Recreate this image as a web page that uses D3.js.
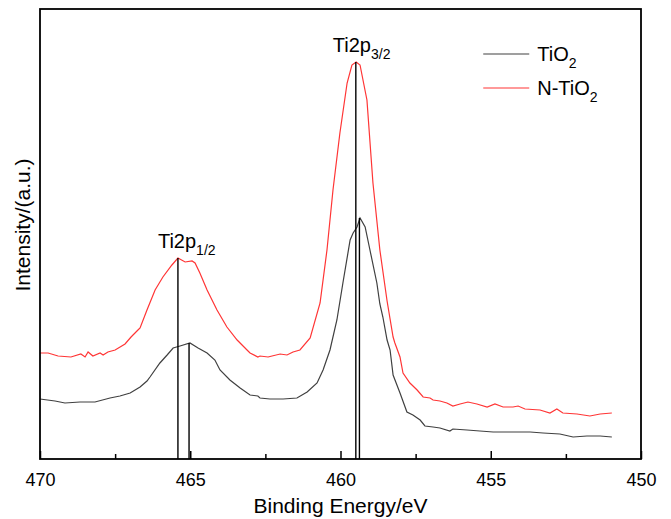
<!DOCTYPE html>
<html>
<head>
<meta charset="utf-8">
<script src="https://cdn.jsdelivr.net/npm/d3@7"></script>
<style>
  body { margin: 0; background: #fff; }
  text { font-family: "Liberation Sans", Arial, sans-serif; fill: #000; }
</style>
</head>
<body>
<div id="chart"></div>
<script>
// binding energy (eV) and intensity (a.u.)
const tio2E = [470.00, 469.50, 469.17, 468.67, 468.17, 467.67, 467.34, 467.00, 466.67, 466.44, 466.34, 466.01, 465.77, 465.57, 465.34, 465.01, 464.74, 464.44, 464.18, 464.01, 463.68, 463.34, 463.01, 462.75, 462.68, 462.35, 461.91, 461.45, 461.11, 460.78, 460.58, 460.35, 460.12, 459.92, 459.68, 459.58, 459.45, 459.35, 459.18, 459.02, 458.79, 458.69, 458.59, 458.45, 458.35, 458.25, 458.02, 457.79, 457.59, 457.35, 457.19, 456.92, 456.69, 456.36, 456.26, 455.79, 455.36, 454.92, 454.46, 454.09, 453.69, 453.26, 452.70, 452.26, 451.80, 451.36, 450.97];
const tio2I = [60, 58, 56, 57, 57, 61, 63, 66, 72, 78, 82, 96, 104, 111, 113, 116, 111, 106, 99, 89, 79, 71, 64, 63, 61, 60, 60, 61, 67, 76, 89, 109, 139, 176, 219, 226, 232, 241, 232, 209, 176, 155, 142, 119, 109, 84, 66, 47, 44, 39, 33, 32, 31, 28, 30, 29, 28, 27, 27, 27, 27, 26, 25, 22, 23, 23, 22];

const ntio2E = [470.00, 469.73, 469.40, 468.97, 468.64, 468.50, 468.40, 468.24, 468.00, 467.90, 467.74, 467.50, 467.17, 466.97, 466.74, 466.67, 466.44, 466.17, 465.91, 465.61, 465.41, 465.17, 464.94, 464.84, 464.68, 464.44, 464.11, 463.78, 463.44, 463.11, 463.01, 462.75, 462.68, 462.41, 462.01, 461.78, 461.58, 461.35, 461.01, 460.68, 460.45, 460.25, 460.02, 459.78, 459.62, 459.48, 459.35, 459.12, 458.92, 458.69, 458.45, 458.25, 458.19, 458.02, 457.92, 457.69, 457.45, 457.25, 457.02, 456.92, 456.69, 456.46, 456.26, 456.02, 455.76, 455.46, 455.12, 454.86, 454.59, 454.26, 454.09, 453.86, 453.36, 453.03, 452.80, 452.60, 452.13, 451.70, 451.36, 450.97];
const ntio2I = [106, 106, 103, 102, 105, 102, 107, 103, 106, 104, 107, 109, 115, 122, 129, 131, 149, 169, 182, 194, 201, 197, 198, 196, 186, 169, 149, 132, 119, 109, 106, 102, 103, 102, 105, 104, 107, 109, 121, 156, 209, 269, 326, 376, 394, 397, 394, 359, 276, 209, 158, 122, 116, 102, 86, 76, 69, 62, 61, 59, 58, 56, 53, 55, 57, 55, 52, 55, 52, 52, 53, 50, 49, 46, 50, 46, 45, 43, 45, 46];

// peak markers: drop lines from each peak maximum to the axis
const peakE = [465.41, 465.04, 459.49, 459.37];
const peakI = [201, 116, 397, 241];

const xTicks = [470, 465, 460, 455, 450];
const xMinor = [467.5, 462.5, 457.5, 452.5];

const seriesNames = ["TiO2", "N-TiO2"];
const seriesColors = ["#404040", "#ff3535"];

const margin = {top: 9, left: 40, right: 30, bottom: 60},
    W = 671, H = 519,
    width = W - margin.left - margin.right,
    height = H - margin.top - margin.bottom;

const svg = d3.select("#chart").append("svg")
    .attr("width", W)
    .attr("height", H);

const g = svg.append("g")
    .attr("transform", `translate(${margin.left},${margin.top})`);

const x = d3.scaleLinear().domain([470, 450]).range([0, width]);
const y = d3.scaleLinear().domain([0, 450]).range([height, 0]);

const line = d3.line()
    .x(d => x(d[0]))
    .y(d => y(d[1]));

const series = [
  d3.zip(tio2E, tio2I),
  d3.zip(ntio2E, ntio2I)
];

g.selectAll("path.spec")
  .data(series)
  .join("path")
    .attr("class", "spec")
    .attr("fill", "none")
    .attr("stroke", (d, i) => seriesColors[i])
    .attr("stroke-width", 1.2)
    .attr("d", line);

// drop lines
g.selectAll("line.peak")
  .data(d3.zip(peakE, peakI))
  .join("line")
    .attr("class", "peak")
    .attr("x1", d => x(d[0])).attr("x2", d => x(d[0]))
    .attr("y1", d => y(d[1])).attr("y2", height)
    .attr("stroke", "#000")
    .attr("stroke-width", 1.4);

// x axis, ticks pointing inward
const xAxis = g.append("g")
    .attr("transform", `translate(0,${height})`)
    .call(d3.axisBottom(x).tickValues(xTicks).tickSize(-8).tickPadding(14).tickFormat(d3.format("d")));
xAxis.select(".domain").remove();
xAxis.selectAll("line").attr("stroke-width", 1.5);
xAxis.selectAll("text")
    .style("font-family", "'Liberation Sans', Arial, sans-serif")
    .style("font-size", "18px");

g.append("g")
    .attr("transform", `translate(0,${height})`)
    .call(d3.axisBottom(x).tickValues(xMinor).tickSize(-5).tickFormat(""))
    .call(a => a.select(".domain").remove())
    .selectAll("line").attr("stroke-width", 1.5);

// frame
g.append("rect")
    .attr("width", width)
    .attr("height", height)
    .attr("fill", "none")
    .attr("stroke", "#000")
    .attr("stroke-width", 1.8);

// axis titles
svg.append("text")
    .attr("x", margin.left + width / 2)
    .attr("y", 513)
    .attr("text-anchor", "middle")
    .style("font-size", "21px")
    .text("Binding Energy/eV");

svg.append("text")
    .attr("transform", `translate(30,${margin.top + 216}) rotate(-90)`)
    .attr("text-anchor", "middle")
    .style("font-size", "21px")
    .text("Intensity/(a.u.)");

// peak labels
function peakLabel(px, py, main, sub) {
  const t = g.append("text")
      .attr("x", px)
      .attr("y", py)
      .style("font-size", "20px");
  t.append("tspan").text(main);
  t.append("tspan").attr("dy", 7).style("font-size", "14px").text(sub);
}
peakLabel(x(465.41) - 20, y(201) - 10, "Ti2p", "1/2");
peakLabel(x(459.49) - 23, y(397) - 10, "Ti2p", "3/2");

// legend
const legend = g.append("g")
    .attr("transform", `translate(${x(455.25)},${y(405)})`);
seriesNames.forEach((name, i) => {
  const row = legend.append("g").attr("transform", `translate(0,${i * 34})`);
  row.append("line")
      .attr("x1", 0).attr("x2", 46)
      .attr("stroke", seriesColors[i])
      .attr("stroke-width", 1.2);
  const t = row.append("text")
      .attr("x", 54)
      .attr("y", 7)
      .style("font-size", "20px");
  t.append("tspan").text(name.slice(0, -1));
  t.append("tspan").attr("dy", 7).style("font-size", "14px").text(name.slice(-1));
});
</script>
</body>
</html>
